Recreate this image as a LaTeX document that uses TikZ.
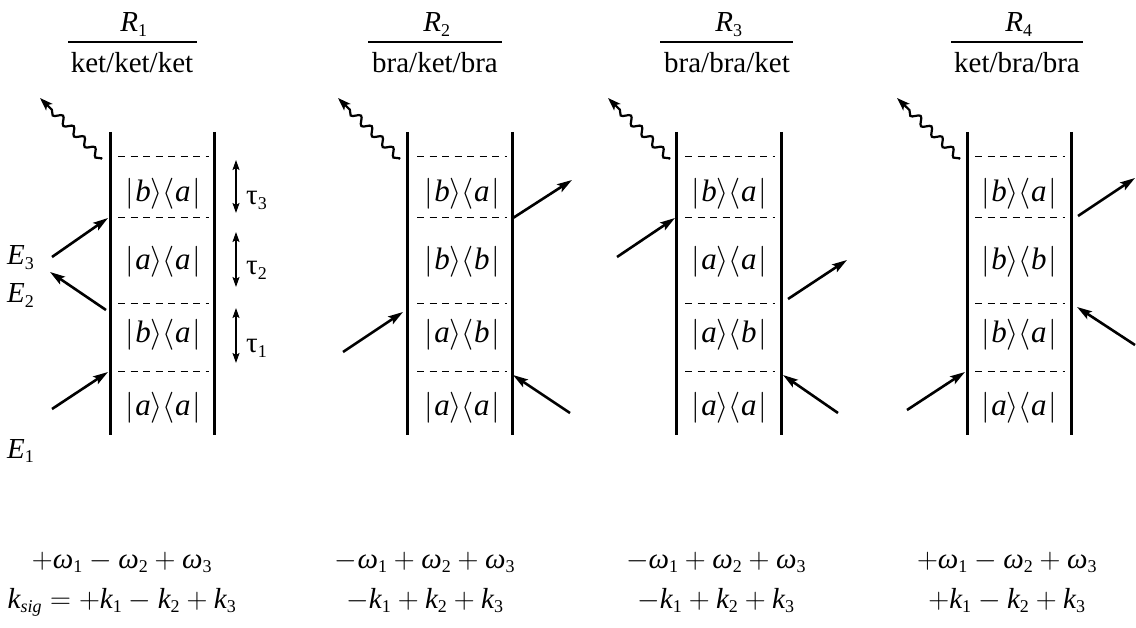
\RequirePackage{fix-cm}
\documentclass[tikz,border=0pt]{standalone}
\usepackage{amsmath}
\usepackage{fontspec}
\setmainfont{Liberation Serif}
\usetikzlibrary{arrows.meta,decorations.pathmorphing}
\DeclareMathSizes{29}{29}{18}{14}
\DeclareMathSizes{31}{31}{20}{15}
\newcommand{\bk}[2]{\fontsize{31}{36}\selectfont$|\mkern1mu\textit{#1}\rangle\langle\textit{#2}\mkern1mu|$}
\newcommand{\iv}[1]{\textit{#1}}
\newcommand{\sbt}[1]{_{\text{#1}}}
\begin{document}
\begin{tikzpicture}[x=1pt,y=-1pt,font=\fontsize{29}{34}\selectfont,
  rail/.style={line width=3pt},
  sep/.style={line width=1pt,dash pattern=on 7pt off 5.5pt},
  beam/.style={line width=2.6pt,-{Stealth[length=15pt,width=9pt,inset=3pt]}},
  wave/.style={line width=2.2pt,-{Stealth[length=13pt,width=9pt,inset=3pt]},decorate,
    decoration={snake,amplitude=3.6pt,segment length=15pt,pre length=1pt,post length=12pt}},
  delay/.style={line width=1.7pt,{Stealth[length=10pt,width=7pt,inset=2pt]}-{Stealth[length=10pt,width=7pt,inset=2pt]}},
  rule/.style={line width=1.5pt},
  lbl/.style={inner sep=0pt,anchor=base}]
\useasboundingbox (0,0) rectangle (1136,628);

% ===== headers =====
\node[lbl] (h1R) at (134,32) {$\iv{R}\sbt{1}$};
\node[lbl] (h1t) at (132,73) {ket/ket/ket};
\coordinate (h1a) at (68,42); \coordinate (h1b) at (197,42);
\draw[rule] (h1a) -- (h1b);
\node[lbl] (h2R) at (437,32) {$\iv{R}\sbt{2}$};
\node[lbl] (h2t) at (435,73) {bra/ket/bra};
\coordinate (h2a) at (368,42); \coordinate (h2b) at (502,42);
\draw[rule] (h2a) -- (h2b);
\node[lbl] (h3R) at (729,32) {$\iv{R}\sbt{3}$};
\node[lbl] (h3t) at (727,73) {bra/bra/ket};
\coordinate (h3a) at (660,42); \coordinate (h3b) at (793,42);
\draw[rule] (h3a) -- (h3b);
\node[lbl] (h4R) at (1019,32) {$\iv{R}\sbt{4}$};
\node[lbl] (h4t) at (1017,73) {ket/bra/bra};
\coordinate (h4a) at (951,42); \coordinate (h4b) at (1083,42);
\draw[rule] (h4a) -- (h4b);

% ===== diagram 1 =====
\coordinate (l1t) at (110,132); \coordinate (l1b) at (110,435);
\coordinate (r1t) at (214,132); \coordinate (r1b) at (214,435);
\draw[rail] (l1t) -- (l1b); \draw[rail] (r1t) -- (r1b);
\foreach \y [count=\i] in {157,218,304,372}{
  \coordinate (d1a\i) at (118,\y); \coordinate (d1b\i) at (209,\y);
  \draw[sep] (d1a\i) -- (d1b\i);}
\node (s14) at (163,194) {\bk{b}{a}};
\node (s13) at (163,262) {\bk{a}{a}};
\node (s12) at (163,335) {\bk{b}{a}};
\node (s11) at (163,408) {\bk{a}{a}};
\coordinate (w1s) at (102,159); \coordinate (w1e) at (40,98);
\draw[wave] (w1s) -- (w1e);
\coordinate (e1s) at (52,409); \coordinate (e1e) at (108,372);
\draw[beam] (e1s) -- (e1e);
\coordinate (e2s) at (106,310); \coordinate (e2e) at (50,272);
\draw[beam] (e2s) -- (e2e);
\coordinate (e3s) at (52,257); \coordinate (e3e) at (108,218);
\draw[beam] (e3s) -- (e3e);
\node[lbl,anchor=base west] (E3) at (7,265) {$\iv{E}\sbt{3}$};
\node[lbl,anchor=base west] (E2) at (7,303) {$\iv{E}\sbt{2}$};
\node[lbl,anchor=base west] (E1) at (7,458) {$\iv{E}\sbt{1}$};
\coordinate (t3a) at (236,160); \coordinate (t3b) at (236,213);
\coordinate (t2a) at (236,232); \coordinate (t2b) at (236,287);
\coordinate (t1a) at (236,308); \coordinate (t1b) at (236,363);
\draw[delay] (t3a) -- (t3b);
\draw[delay] (t2a) -- (t2b);
\draw[delay] (t1a) -- (t1b);
\node[lbl,anchor=base west] (tau3) at (246,205) {$\text{τ}\sbt{3}$};
\node[lbl,anchor=base west] (tau2) at (246,275) {$\text{τ}\sbt{2}$};
\node[lbl,anchor=base west] (tau1) at (246,353) {$\text{τ}\sbt{1}$};

% ===== diagram 2 =====
\coordinate (l2t) at (407,132); \coordinate (l2b) at (407,435);
\coordinate (r2t) at (512,132); \coordinate (r2b) at (512,435);
\draw[rail] (l2t) -- (l2b); \draw[rail] (r2t) -- (r2b);
\foreach \y [count=\i] in {157,218,304,372}{
  \coordinate (d2a\i) at (417,\y); \coordinate (d2b\i) at (507,\y);
  \draw[sep] (d2a\i) -- (d2b\i);}
\node (s24) at (462,194) {\bk{b}{a}};
\node (s23) at (462,262) {\bk{b}{b}};
\node (s22) at (462,335) {\bk{a}{b}};
\node (s21) at (462,408) {\bk{a}{a}};
\coordinate (w2s) at (400,159); \coordinate (w2e) at (338,98);
\draw[wave] (w2s) -- (w2e);
\coordinate (f1s) at (570,413); \coordinate (f1e) at (513,375);
\draw[beam] (f1s) -- (f1e);
\coordinate (f2s) at (343,352); \coordinate (f2e) at (403,312);
\draw[beam] (f2s) -- (f2e);
\coordinate (f3s) at (513,218); \coordinate (f3e) at (572,180);
\draw[beam] (f3s) -- (f3e);

% ===== diagram 3 =====
\coordinate (l3t) at (676,132); \coordinate (l3b) at (676,435);
\coordinate (r3t) at (781,132); \coordinate (r3b) at (781,435);
\draw[rail] (l3t) -- (l3b); \draw[rail] (r3t) -- (r3b);
\foreach \y [count=\i] in {157,218,304,372}{
  \coordinate (d3a\i) at (685,\y); \coordinate (d3b\i) at (775,\y);
  \draw[sep] (d3a\i) -- (d3b\i);}
\node (s34) at (729,194) {\bk{b}{a}};
\node (s33) at (729,262) {\bk{a}{a}};
\node (s32) at (729,335) {\bk{a}{b}};
\node (s31) at (729,408) {\bk{a}{a}};
\coordinate (w3s) at (670,159); \coordinate (w3e) at (608,98);
\draw[wave] (w3s) -- (w3e);
\coordinate (g1s) at (838,413); \coordinate (g1e) at (783,375);
\draw[beam] (g1s) -- (g1e);
\coordinate (g2s) at (788,299); \coordinate (g2e) at (847,260);
\draw[beam] (g2s) -- (g2e);
\coordinate (g3s) at (617,257); \coordinate (g3e) at (675,218);
\draw[beam] (g3s) -- (g3e);

% ===== diagram 4 =====
\coordinate (l4t) at (967,132); \coordinate (l4b) at (967,435);
\coordinate (r4t) at (1071,132); \coordinate (r4b) at (1071,435);
\draw[rail] (l4t) -- (l4b); \draw[rail] (r4t) -- (r4b);
\foreach \y [count=\i] in {157,218,304,372}{
  \coordinate (d4a\i) at (975,\y); \coordinate (d4b\i) at (1065,\y);
  \draw[sep] (d4a\i) -- (d4b\i);}
\node (s44) at (1019,194) {\bk{b}{a}};
\node (s43) at (1019,262) {\bk{b}{b}};
\node (s42) at (1019,335) {\bk{b}{a}};
\node (s41) at (1019,408) {\bk{a}{a}};
\coordinate (w4s) at (960,159); \coordinate (w4e) at (897,98);
\draw[wave] (w4s) -- (w4e);
\coordinate (k1s) at (907,410); \coordinate (k1e) at (965,372);
\draw[beam] (k1s) -- (k1e);
\coordinate (k2s) at (1135,345); \coordinate (k2e) at (1077,307);
\draw[beam] (k2s) -- (k2e);
\coordinate (k3s) at (1078,216); \coordinate (k3e) at (1135,178);
\draw[beam] (k3s) -- (k3e);

% ===== phase matching =====
\node[lbl] (p1a) at (122,568) {$+\iv{ω}\sbt{1}-\iv{ω}\sbt{2}+\iv{ω}\sbt{3}$};
\node[lbl] (p1b) at (122,608) {$\iv{k}_{\textit{sig}}=+\iv{k}\sbt{1}-\iv{k}\sbt{2}+\iv{k}\sbt{3}$};
\node[lbl] (p2a) at (425,568) {$-\iv{ω}\sbt{1}+\iv{ω}\sbt{2}+\iv{ω}\sbt{3}$};
\node[lbl] (p2b) at (425,608) {$-\iv{k}\sbt{1}+\iv{k}\sbt{2}+\iv{k}\sbt{3}$};
\node[lbl] (p3a) at (716,568) {$-\iv{ω}\sbt{1}+\iv{ω}\sbt{2}+\iv{ω}\sbt{3}$};
\node[lbl] (p3b) at (716,608) {$-\iv{k}\sbt{1}+\iv{k}\sbt{2}+\iv{k}\sbt{3}$};
\node[lbl] (p4a) at (1007,568) {$+\iv{ω}\sbt{1}-\iv{ω}\sbt{2}+\iv{ω}\sbt{3}$};
\node[lbl] (p4b) at (1007,608) {$+\iv{k}\sbt{1}-\iv{k}\sbt{2}+\iv{k}\sbt{3}$};
\end{tikzpicture}
\end{document}
